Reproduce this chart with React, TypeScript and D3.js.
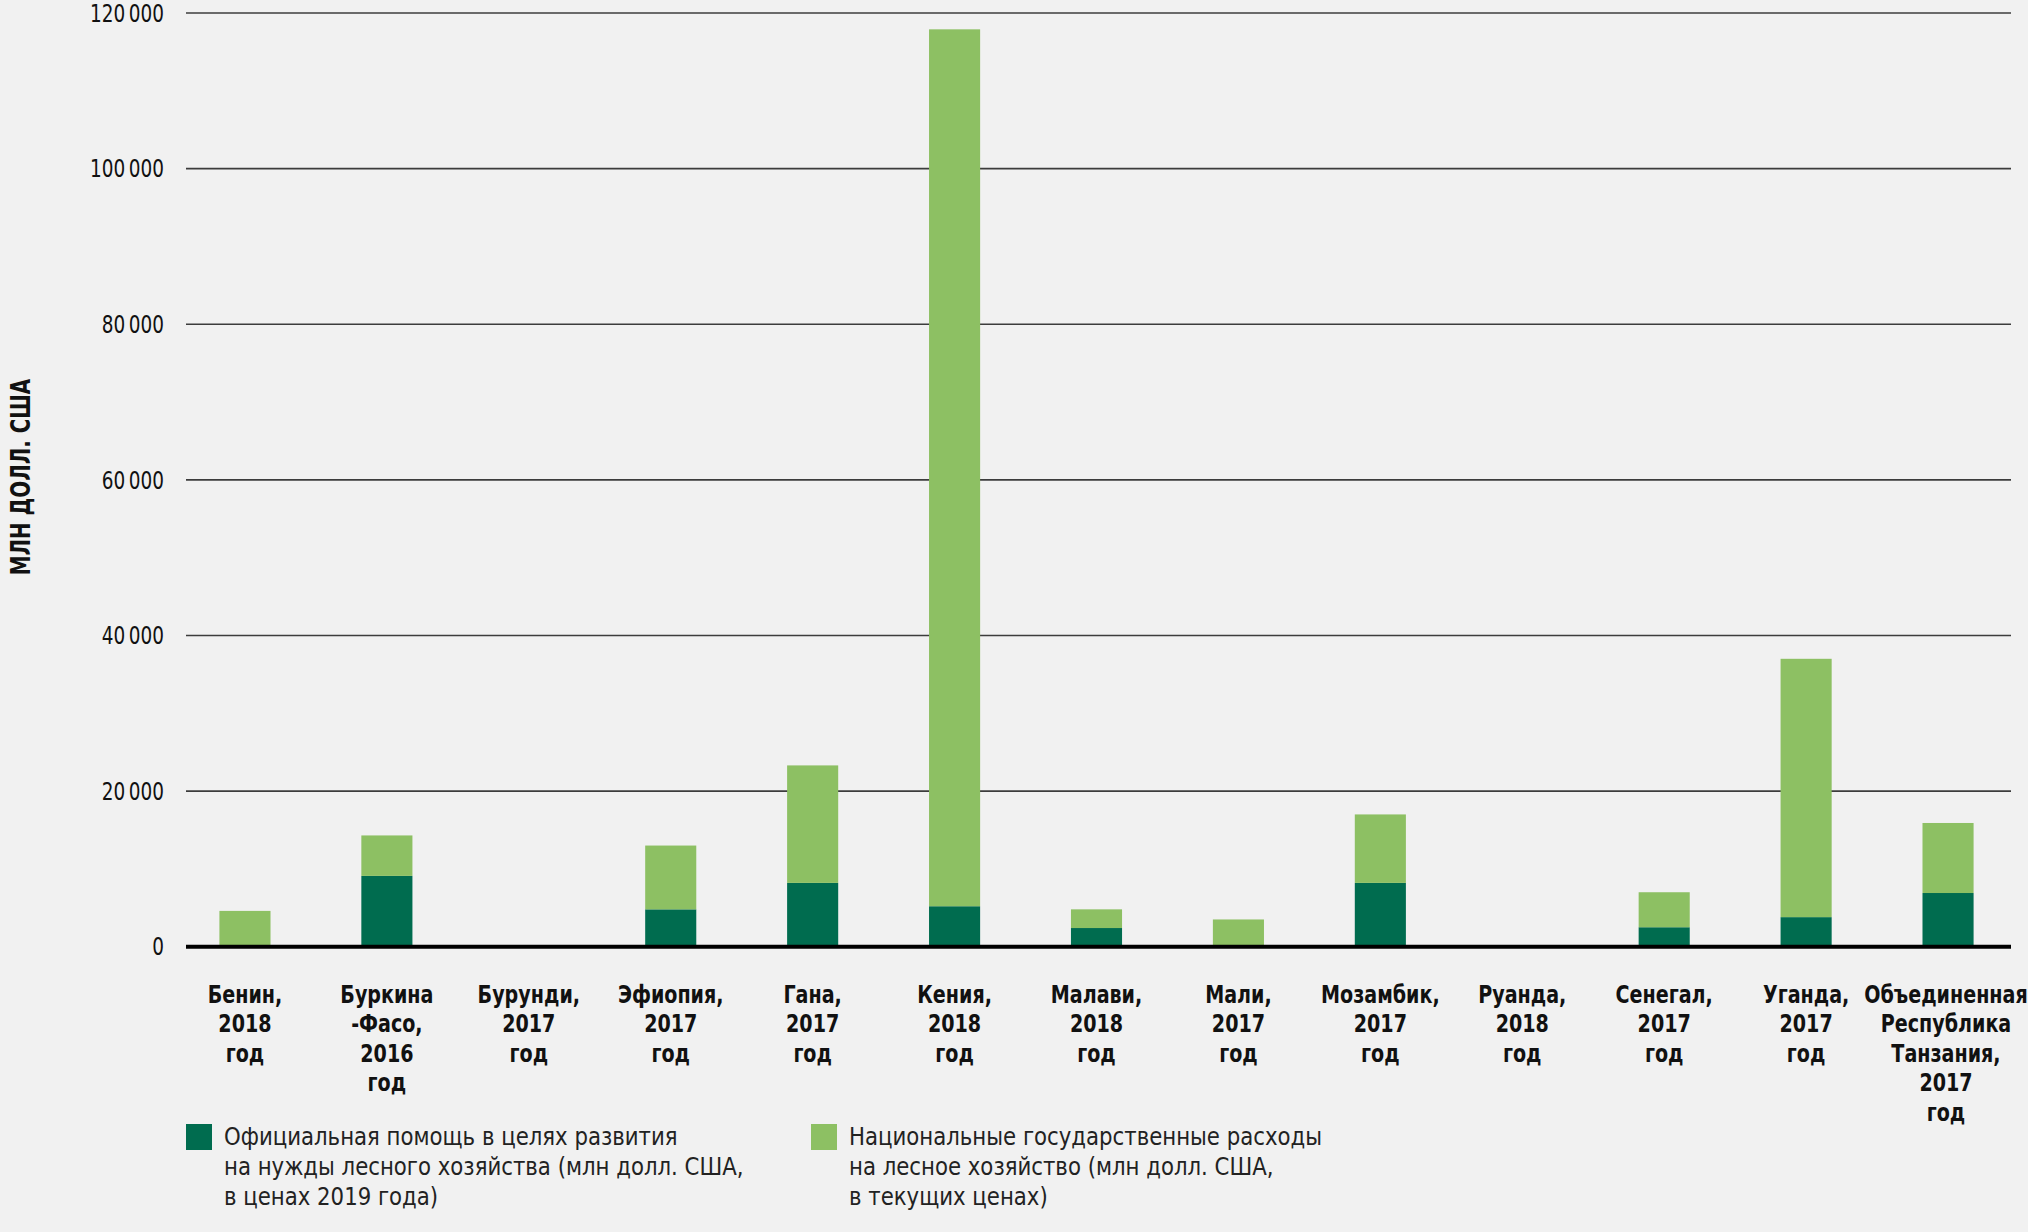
import React from "react";
import * as d3 from "d3";

const categories = [
  "Бенин, 2018 год",
  "Буркина-Фасо, 2016 год",
  "Бурунди, 2017 год",
  "Эфиопия, 2017 год",
  "Гана, 2017 год",
  "Кения, 2018 год",
  "Малави, 2018 год",
  "Мали, 2017 год",
  "Мозамбик, 2017 год",
  "Руанда, 2018 год",
  "Сенегал, 2017 год",
  "Уганда, 2017 год",
  "Объединенная Республика Танзания, 2017 год",
];

const categoryLines = [
  ["Бенин,", "2018", "год"],
  ["Буркина", "-Фасо,", "2016", "год"],
  ["Бурунди,", "2017", "год"],
  ["Эфиопия,", "2017", "год"],
  ["Гана,", "2017", "год"],
  ["Кения,", "2018", "год"],
  ["Малави,", "2018", "год"],
  ["Мали,", "2017", "год"],
  ["Мозамбик,", "2017", "год"],
  ["Руанда,", "2018", "год"],
  ["Сенегал,", "2017", "год"],
  ["Уганда,", "2017", "год"],
  ["Объединенная", "Республика", "Танзания,", "2017", "год"],
];

// Official development assistance for forestry (dark green)
const odaValues = [0, 9100, 0, 4800, 8200, 5200, 2400, 0, 8200, 0, 2500, 3800, 6900];
// National public expenditure on forestry (light green)
const nationalValues = [4600, 5200, 0, 8200, 15100, 112700, 2400, 3500, 8800, 0, 4500, 33200, 9000];

const yTicks = [0, 20000, 40000, 60000, 80000, 100000, 120000];

const seriesNames = [
  ["Официальная помощь в целях развития", "на нужды лесного хозяйства (млн долл. США,", "в ценах 2019 года)"],
  ["Национальные государственные расходы", "на лесное хозяйство (млн долл. США,", "в текущих ценах)"],
];

const yAxisTitle = "МЛН ДОЛЛ. США";

const W = 2028;
const H = 1232;
const DARK = "#006c4f";
const LIGHT = "#8dc063";
const FONT = "'Liberation Sans Narrow', 'DejaVu Sans Condensed', 'Open Sans', sans-serif";

export default function App() {
  const y = d3.scaleLinear().domain([0, 120000]).range([946.7, 13]);
  const x = d3.scaleBand<string>().domain(categories).range([174, 2019]).paddingInner(0.64).paddingOuter(0.32);
  const fmt = d3.formatLocale({ decimal: ",", thousands: "\u2009", grouping: [3], currency: ["", ""] }).format(",d");

  const rows = categories.map((c, i) => ({ cat: c, oda: odaValues[i], nat: nationalValues[i] }));
  const stack = d3.stack<any>().keys(["oda", "nat"])(rows as any);
  const colors = [DARK, LIGHT];

  const gridX0 = 186;
  const gridX1 = 2011;

  return (
    <svg width={W} height={H} style={{ position: "fixed", left: 0, top: 0 }} fontFamily={FONT}>
      <rect x={0} y={0} width={W} height={H} fill="#f1f1f1" />
      {yTicks.filter((t) => t > 0).map((t) => (
        <line key={t} x1={gridX0} x2={gridX1} y1={y(t)} y2={y(t)} stroke="#3c3c3c" strokeWidth={1.6} />
      ))}
      {yTicks.map((t) => (
        <text
          key={"l" + t}
          transform={`translate(164,${y(t)}) scale(0.82,1)`}
          dy="0.35em"
          textAnchor="end"
          fontSize={25}
          fill="#111"
        >
          {fmt(t)}
        </text>
      ))}
      <text
        transform={`translate(30,477) rotate(-90) scale(0.85,1.05)`}
        textAnchor="middle"
        fontSize={26}
        fontWeight="bold"
        fill="#111"
      >
        {yAxisTitle}
      </text>
      {stack.map((layer, li) => (
        <g key={li} fill={colors[li]}>
          {layer.map((d, i) => {
            const h = y(d[0]) - y(d[1]);
            if (h <= 0) return null;
            return <rect key={i} x={x(categories[i])} y={y(d[1])} width={x.bandwidth()} height={h} />;
          })}
        </g>
      ))}
      <line x1={gridX0} x2={gridX1} y1={y(0)} y2={y(0)} stroke="#000" strokeWidth={4} />
      {categories.map((c, i) => {
        const cx = Math.min((x(c) as number) + x.bandwidth() / 2, 1946);
        return (
          <text
            key={c}
            transform={`translate(${cx},1003) scale(0.85,1)`}
            textAnchor="middle"
            fontSize={25}
            fontWeight="bold"
            fill="#111"
          >
            {categoryLines[i].map((ln, j) => (
              <tspan key={j} x={0} dy={j === 0 ? 0 : 29.5}>
                {ln}
              </tspan>
            ))}
          </text>
        );
      })}
      {seriesNames.map((lines, si) => {
        const lx = si === 0 ? 186 : 811;
        return (
          <g key={si}>
            <rect x={lx} y={1124} width={26} height={26} fill={colors[si]} />
            <text transform={`translate(${lx + 38},1145) scale(0.985,1)`} fontSize={24} fill="#222">
              {lines.map((ln, j) => (
                <tspan key={j} x={0} dy={j === 0 ? 0 : 30}>
                  {ln}
                </tspan>
              ))}
            </text>
          </g>
        );
      })}
    </svg>
  );
}
